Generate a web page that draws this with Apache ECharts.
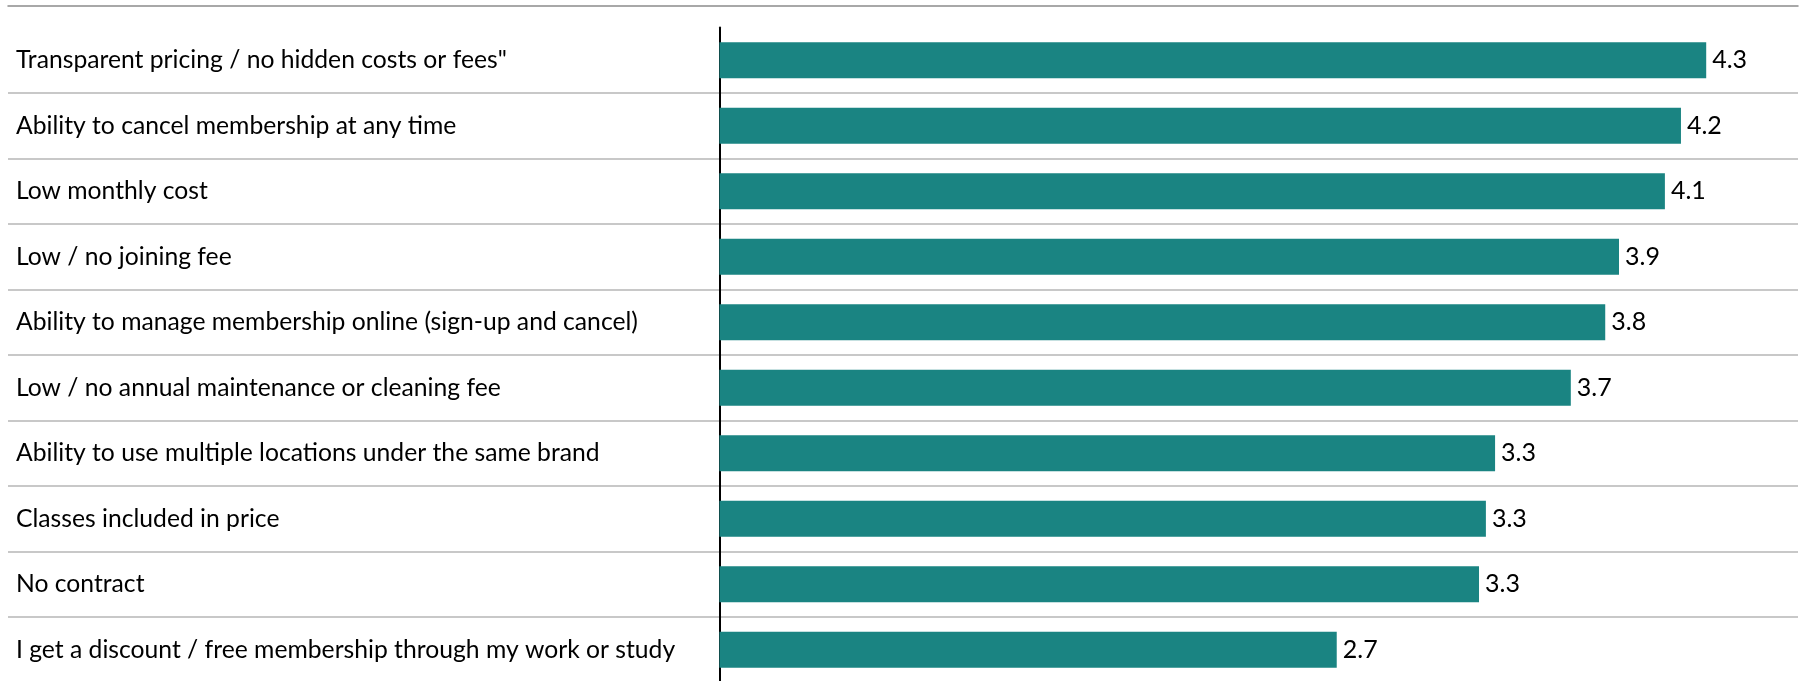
<!DOCTYPE html>
<html>
<head>
<meta charset="utf-8">
<script src="https://cdn.jsdelivr.net/npm/echarts@6/dist/echarts.min.js"></script>
<style>
html,body{margin:0;padding:0;background:#fff;}
#chart{width:1809px;height:681px;}
</style>
</head>
<body>
<div id="chart"></div>
<script>
var categories = [
  'Transparent pricing / no hidden costs or fees"',
  'Ability to cancel membership at any time',
  'Low monthly cost',
  'Low / no joining fee',
  'Ability to manage membership online (sign-up and cancel)',
  'Low / no annual maintenance or cleaning fee',
  'Ability to use multiple locations under the same brand',
  'Classes included in price',
  'No contract',
  'I get a discount / free membership through my work or study'
];
var values = [4.30, 4.19, 4.12, 3.92, 3.86, 3.71, 3.38, 3.34, 3.31, 2.69];
var valueLabels = ['4.3', '4.2', '4.1', '3.9', '3.8', '3.7', '3.3', '3.3', '3.3', '2.7'];

var FONT = 'Lato';
var chart = echarts.init(document.getElementById('chart'), null, {renderer: 'canvas'});
var option = {
  animation: false,
  backgroundColor: '#ffffff',
  grid: {left: 8, right: 11, top: 27.5, height: 655, containLabel: false, outerBoundsMode: 'none'},
  xAxis: {
    type: 'value',
    min: -3.1,
    max: 4.7,
    position: 'top',
    offset: 21.5,
    axisLine: {show: true, onZero: false, lineStyle: {color: '#8c8c8c', width: 1.5}},
    axisTick: {show: false},
    axisLabel: {show: false},
    splitLine: {show: false}
  },
  yAxis: [{
    type: 'category',
    inverse: true,
    data: categories,
    position: 'left',
    axisLine: {show: false, onZero: false},
    axisTick: {show: false},
    axisLabel: {
      show: true,
      align: 'left',
      margin: -8,
      color: '#000000',
      fontSize: 24.7,
      fontFamily: FONT
    },
    splitLine: {show: true, showMinLine: false, lineStyle: {color: '#c8c8c8', width: 2}}
  }, {
    type: 'category',
    inverse: true,
    data: categories,
    position: 'left',
    axisLine: {show: true, onZero: true, lineStyle: {color: '#000000', width: 2}},
    axisTick: {show: false},
    axisLabel: {show: false},
    splitLine: {show: false}
  }],
  series: [{
    type: 'bar',
    data: values,
    yAxisIndex: 0,
    barWidth: 36,
    itemStyle: {color: '#1a8482'},
    label: {
      show: true,
      position: 'right',
      distance: 6,
      color: '#000000',
      fontSize: 25,
      fontFamily: FONT,
      formatter: function (p) { return valueLabels[p.dataIndex]; }
    }
  }]
};
chart.setOption(option);
</script>
</body>
</html>
